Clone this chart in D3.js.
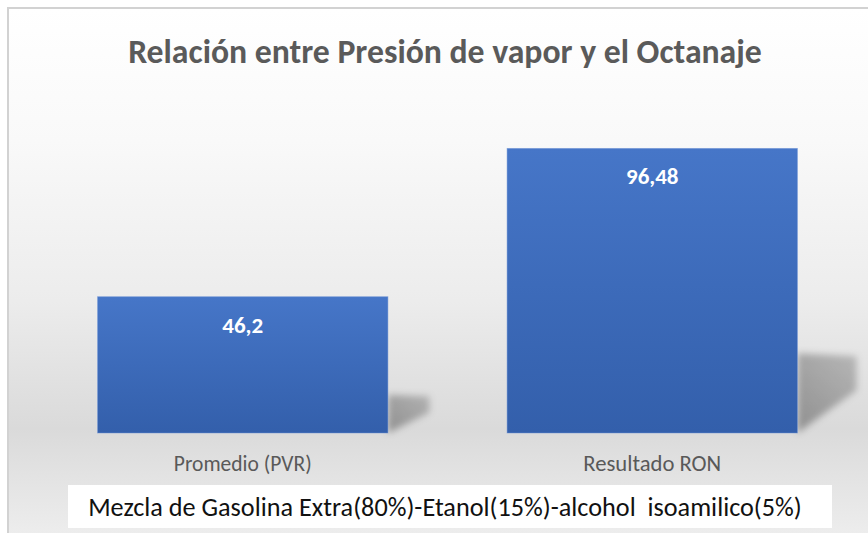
<!DOCTYPE html>
<html>
<head>
<meta charset="utf-8">
<script src="https://cdn.jsdelivr.net/npm/d3@7"></script>
<style>
  html, body { margin: 0; padding: 0; background: #ffffff; }
  svg { display: block; }
</style>
</head>
<body>
<svg id="chart" width="868" height="533"></svg>
<script>
// Chart data
const categories = ["Promedio (PVR)", "Resultado RON"];
const values = [46.2, 96.48];
const valueLabels = ["46,2", "96,48"];
const titleText = "Relación entre Presión de vapor y el Octanaje";
const captionText = "Mezcla de Gasolina Extra(80%)-Etanol(15%)-alcohol\u00A0 isoamilico(5%)";

const W = 868, H = 533;
const svg = d3.select("#chart");
const defs = svg.append("defs");
const FONT = "Carlito, Calibri, Lato, 'Open Sans', sans-serif";

// Chart-area background: white at the top fading to light grey near the axis
const bg = defs.append("linearGradient").attr("id", "bgGrad")
  .attr("x1", 0).attr("y1", 0).attr("x2", 0).attr("y2", 1);
[[0, "#ffffff"], [0.25, "#f9f9f9"], [0.55, "#ececec"], [0.79, "#dadada"], [0.88, "#e3e3e3"], [1, "#eeeeee"]]
  .forEach(([o, c]) => bg.append("stop").attr("offset", o).attr("stop-color", c));

// Bar fill
const barGrad = defs.append("linearGradient").attr("id", "barGrad")
  .attr("x1", 0).attr("y1", 0).attr("x2", 0).attr("y2", 1);
barGrad.append("stop").attr("offset", 0).attr("stop-color", "#4676c8");
barGrad.append("stop").attr("offset", 1).attr("stop-color", "#335fab");

// Shadow fill + blur
const shGrad = defs.append("linearGradient").attr("id", "shGrad")
  .attr("x1", 0).attr("y1", 1).attr("x2", 1).attr("y2", 0);
shGrad.append("stop").attr("offset", 0).attr("stop-color", "#000").attr("stop-opacity", 0.34);
shGrad.append("stop").attr("offset", 1).attr("stop-color", "#000").attr("stop-opacity", 0.2);
defs.append("filter").attr("id", "shBlur").attr("x", "-30%").attr("y", "-30%")
  .attr("width", "160%").attr("height", "160%")
  .append("feGaussianBlur").attr("stdDeviation", 3.5);

// Chart frame
svg.append("rect").attr("x", 8).attr("y", 8).attr("width", W).attr("height", H)
  .attr("fill", "url(#bgGrad)");
svg.append("rect").attr("x", 8).attr("y", 8).attr("width", W + 10).attr("height", H + 10)
  .attr("fill", "none").attr("stroke", "#d2d2d2").attr("stroke-width", 2);

// Scales
const x = d3.scaleBand().domain(categories).range([38, 857])
  .paddingInner(0.291).paddingOuter(0.1455);
const y = d3.scaleLinear().domain([0, 100]).range([433, 138]);

const data = categories.map((c, i) => ({ cat: c, v: values[i], label: valueLabels[i] }));

// Perspective shadows behind each bar
svg.append("g").selectAll("path").data(data).join("path")
  .attr("d", d => {
    const xr = x(d.cat) + x.bandwidth();
    const yb = y(0);
    const h = y(0) - y(d.v);
    const dx = 25 + 0.12 * h;
    return `M${xr},${yb} L${xr},${yb - 0.28 * h} L${xr + dx},${yb - 0.27 * h} L${xr + dx},${yb - 0.15 * h} Z`;
  })
  .attr("fill", "url(#shGrad)")
  .attr("filter", "url(#shBlur)");

// Bars
svg.append("g").selectAll("rect").data(data).join("rect")
  .attr("x", d => x(d.cat))
  .attr("y", d => y(d.v))
  .attr("width", x.bandwidth())
  .attr("height", d => y(0) - y(d.v))
  .attr("fill", "url(#barGrad)")
  .attr("stroke", "#6f95d6").attr("stroke-width", 0.8).attr("stroke-opacity", 0.6);

// Fit a text element to a target width by adjusting its font size
function fitWidth(sel, target) {
  const node = sel.node();
  const fs = parseFloat(sel.attr("font-size"));
  const w = node.getComputedTextLength();
  if (w > 0) sel.attr("font-size", (fs * target / w).toFixed(2));
  return sel;
}

// Value labels inside the bars
svg.append("g").selectAll("text").data(data).join("text")
  .attr("x", d => x(d.cat) + x.bandwidth() / 2)
  .attr("y", d => y(d.v) + 36)
  .attr("text-anchor", "middle")
  .attr("font-family", FONT).attr("font-weight", "bold").attr("font-size", 23)
  .attr("fill", "#ffffff")
  .text(d => d.label);

// Category axis (no line, labels only)
const xAxis = svg.append("g").attr("transform", `translate(0,${y(0)})`)
  .call(d3.axisBottom(x).tickSize(0).tickPadding(0));
xAxis.select(".domain").remove();
xAxis.selectAll("text")
  .attr("dy", 0).attr("y", 38)
  .attr("font-family", FONT).attr("font-size", 17).attr("fill", "#595959");
xAxis.selectAll("text").each(function () { fitWidth(d3.select(this), 138); });

// Title
const title = svg.append("text")
  .attr("x", 445).attr("y", 63).attr("text-anchor", "middle")
  .attr("font-family", FONT).attr("font-weight", "bold").attr("font-size", 28)
  .attr("fill", "#5a5a5a").text(titleText);
fitWidth(title, 634);

// Caption box under the axis
svg.append("rect").attr("x", 68).attr("y", 485).attr("width", 764).attr("height", 43)
  .attr("fill", "#ffffff");
const caption = svg.append("text")
  .attr("x", 445).attr("y", 516).attr("text-anchor", "middle")
  .attr("font-family", FONT).attr("font-size", 21)
  .attr("fill", "#111111").text(captionText);
fitWidth(caption, 714);
</script>
</body>
</html>
